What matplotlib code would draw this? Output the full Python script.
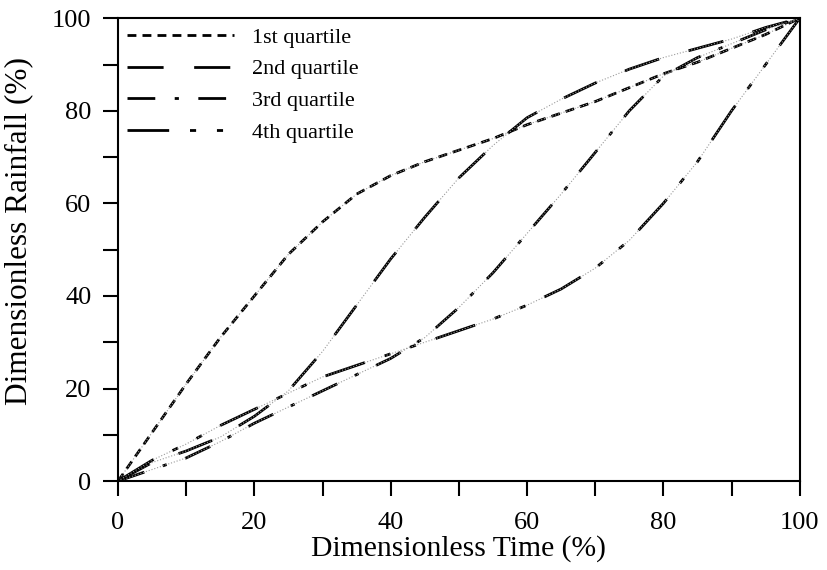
import numpy as np
import matplotlib
matplotlib.use('Agg')
import matplotlib.pyplot as plt

# 数据：无量纲时间 (%) 与各四分位的无量纲累积雨量 (%)
time_pct = [0, 5, 10, 15, 20, 25, 30, 35, 40, 45, 50, 55, 60, 65, 70, 75, 80, 85, 90, 95, 100]
q1 = [0, 10.5, 21, 31, 40, 49, 56, 62, 66, 69, 71.5, 74, 77, 79.5, 82, 85, 88, 90.5, 93.5, 96.5, 100]
q2 = [0, 4, 6.5, 9.5, 14, 19.5, 28, 38, 48, 57, 65.5, 72.5, 78.5, 82.5, 86, 89, 91.5, 93.5, 95.5, 98, 100]
q3 = [0, 2.5, 5, 8.5, 12.5, 16, 19.5, 23, 26.5, 31, 37.5, 45, 53.5, 62, 71, 80, 87.5, 91.5, 94.5, 97.5, 100]
q4 = [0, 4.5, 8, 12, 15.5, 19, 22.5, 25, 27.5, 30, 32.5, 35, 38, 41.5, 46, 52, 60, 69, 80, 90, 100]

labels = ['1st quartile', '2nd quartile', '3rd quartile', '4th quartile']
styles = [(0, (3.2, 2.2)), (0, (13, 11)), (0, (10, 7, 1.5, 7)), (0, (15, 7.5, 2.2, 7.5, 2.2, 7.5))]

plt.rcParams['font.family'] = ['Liberation Serif', 'DejaVu Serif']

fig = plt.figure(figsize=(8.27, 5.70), dpi=100)
ax = fig.add_axes([0.1427, 0.156, 0.8243, 0.812])

for y, lab, ls in zip([q1, q2, q3, q4], labels, styles):
    ax.plot(time_pct, y, color='black', linestyle=ls, linewidth=2.0, label=lab)
    # 细灰色拟合线
    ax.plot(time_pct, y, color='#9a9a9a', linestyle=':', linewidth=0.8)

ax.set_xlim(0, 100)
ax.set_ylim(0, 100)
ax.set_xticks(np.arange(0, 101, 20))
ax.set_xticks(np.arange(0, 101, 10), minor=True)
ax.set_yticks(np.arange(0, 101, 20))
ax.set_yticks(np.arange(0, 101, 10), minor=True)
ax.tick_params(which='both', direction='out', length=11, width=1.5, labelsize=19)
ax.tick_params(axis='x', pad=11)
ax.tick_params(axis='y', pad=8)
for s in ax.spines.values():
    s.set_linewidth(1.5)

ax.set_xlabel('Dimensionless Time (%)', fontsize=21.3, labelpad=1)
ax.set_ylabel('Dimensionless Rainfall (%)', fontsize=22.5)
ax.yaxis.set_label_coords(-0.124, 0.54)

ax.legend(loc='upper left', frameon=False, fontsize=16, handlelength=4.8,
          borderaxespad=0.1, labelspacing=0.5, handletextpad=0.85, borderpad=0.3)

plt.savefig('out.png', dpi=100)
